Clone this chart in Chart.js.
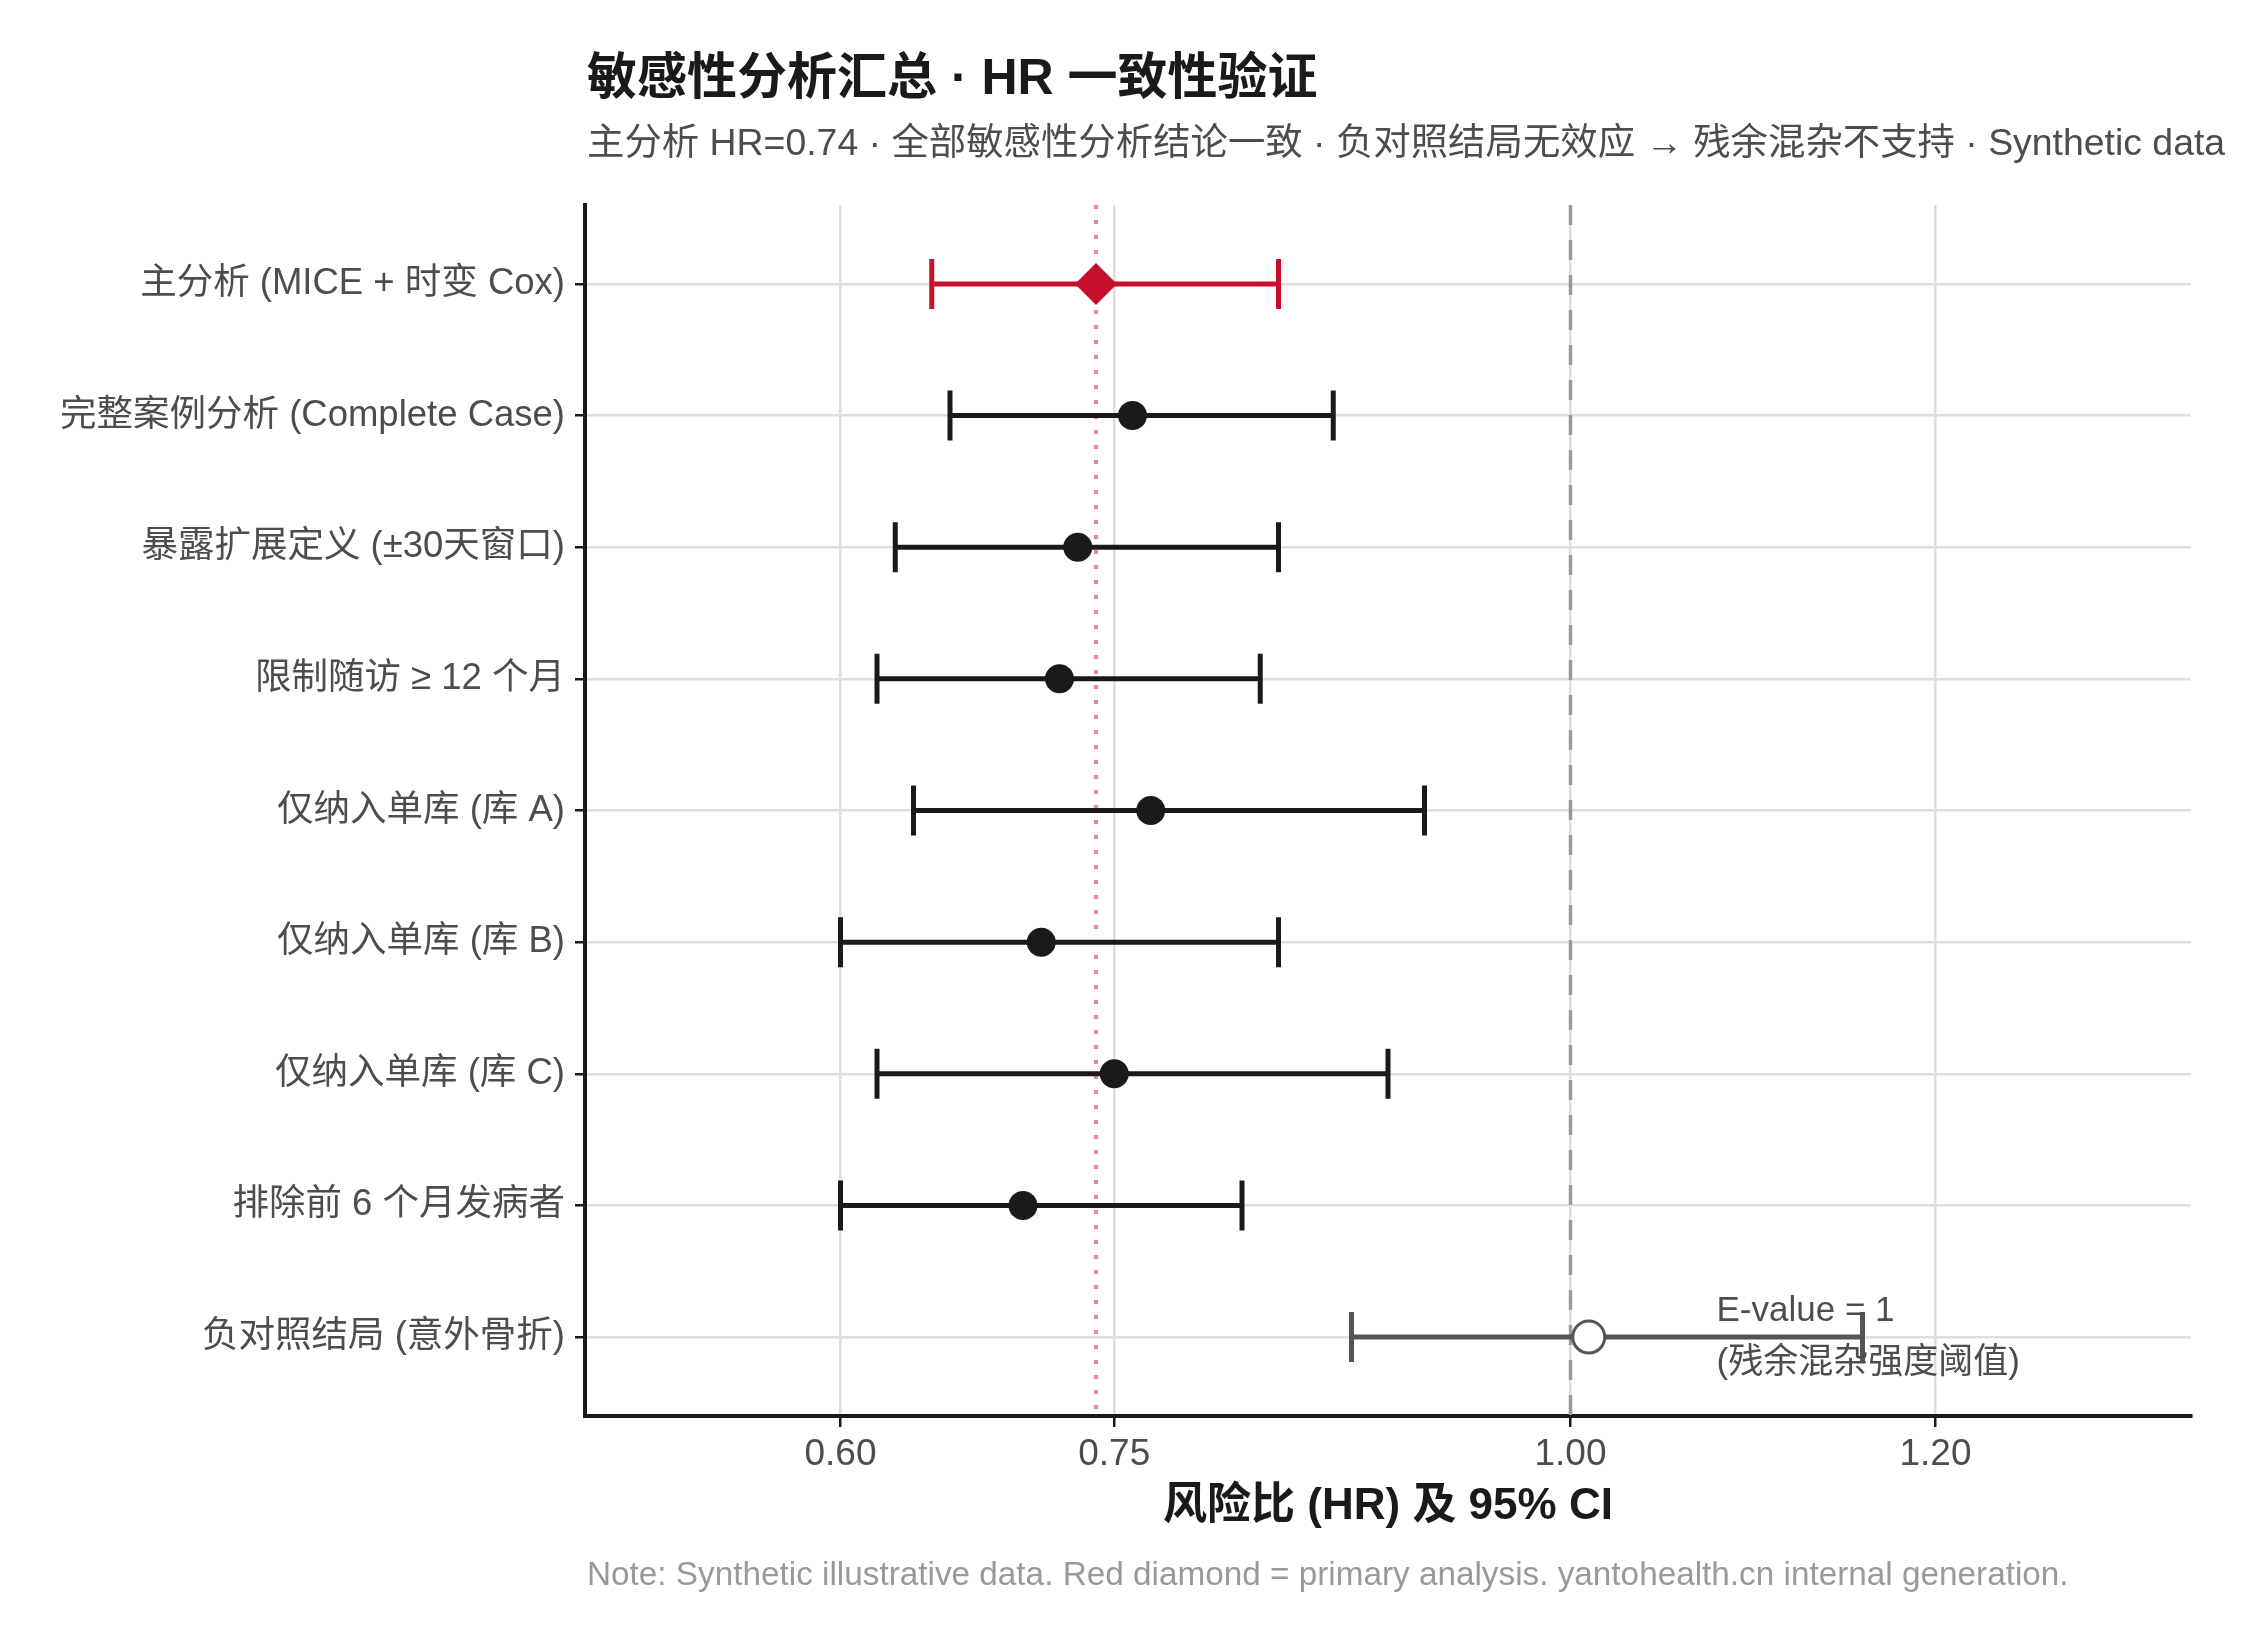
<!DOCTYPE html>
<html>
<head>
<meta charset="utf-8">
<script src="https://cdn.jsdelivr.net/npm/chart.js@4.4.1/dist/chart.umd.min.js"></script>
<style>
  html, body { margin: 0; padding: 0; background: #fff; }
  #wrap { width: 2250px; height: 1650px; }
</style>
</head>
<body>
<div id="wrap"><canvas id="grafico" width="2250" height="1650"></canvas></div>
<script>
// datos
const analyses = [
  '主分析 (MICE + 时变 Cox)',
  '完整案例分析 (Complete Case)',
  '暴露扩展定义 (±30天窗口)',
  '限制随访 ≥ 12 个月',
  '仅纳入单库 (库 A)',
  '仅纳入单库 (库 B)',
  '仅纳入单库 (库 C)',
  '排除前 6 个月发病者',
  '负对照结局 (意外骨折)'
];
const hr   = [0.74, 0.76, 0.73, 0.72, 0.77, 0.71, 0.75, 0.70, 1.01];
const ciLo = [0.65, 0.66, 0.63, 0.62, 0.64, 0.60, 0.62, 0.60, 0.88];
const ciHi = [0.84, 0.87, 0.84, 0.83, 0.92, 0.84, 0.90, 0.82, 1.16];
const xTicks = [0.60, 0.75, 1.00, 1.20];
const primaryHR = 0.74;
const nullHR = 1.00;
const evalueX = 1.08;

const FONT = '"Liberation Sans", "Noto Sans CJK SC", sans-serif';
const RED = '#C8102E';
const DARK = '#1a1a1a';
const GREY = '#555555';

const n = analyses.length;
const colorFor = i => i === 0 ? RED : (i === n - 1 ? GREY : DARK);

// lineas de referencia + barras de error
const forestPlugin = {
  id: 'forest',
  beforeDatasetsDraw(chart) {
    const { ctx, chartArea: a, scales: { x, y } } = chart;
    ctx.save();
    ctx.beginPath();
    ctx.rect(a.left, a.top, a.right - a.left, a.bottom - a.top);
    ctx.clip();
    // HR = 1 linea discontinua
    ctx.strokeStyle = '#9a9a9a';
    ctx.lineWidth = 3.5;
    ctx.setLineDash([20, 15]);
    ctx.beginPath();
    ctx.moveTo(x.getPixelForValue(nullHR), a.top);
    ctx.lineTo(x.getPixelForValue(nullHR), a.bottom);
    ctx.stroke();
    // HR principal linea punteada
    ctx.strokeStyle = 'rgba(200,16,46,0.5)';
    ctx.lineWidth = 4;
    ctx.setLineDash([4, 11]);
    ctx.beginPath();
    ctx.moveTo(x.getPixelForValue(primaryHR), a.top);
    ctx.lineTo(x.getPixelForValue(primaryHR), a.bottom);
    ctx.stroke();
    ctx.setLineDash([]);
    // barras de error
    ctx.lineWidth = 5;
    analyses.forEach((_, i) => {
      const yy = y.getPixelForValue(i);
      const x0 = x.getPixelForValue(ciLo[i]);
      const x1 = x.getPixelForValue(ciHi[i]);
      const h = 25;
      ctx.strokeStyle = colorFor(i);
      ctx.beginPath();
      ctx.moveTo(x0, yy); ctx.lineTo(x1, yy);
      ctx.moveTo(x0, yy - h); ctx.lineTo(x0, yy + h);
      ctx.moveTo(x1, yy - h); ctx.lineTo(x1, yy + h);
      ctx.stroke();
    });
    ctx.restore();
  },
  afterDraw(chart) {
    const { ctx, chartArea: a, scales: { x, y } } = chart;
    ctx.save();
    ctx.textBaseline = 'middle';
    ctx.textAlign = 'left';
    // anotacion E-value
    ctx.fillStyle = '#4d4d4d';
    ctx.font = '35px ' + FONT;
    const yy = y.getPixelForValue(n - 1);
    ctx.fillText('E-value = 1', x.getPixelForValue(evalueX), yy - 26);
    ctx.fillText('(残余混杂强度阈值)', x.getPixelForValue(evalueX), yy + 26);
    // titulo
    ctx.fillStyle = DARK;
    ctx.font = 'bold 50px ' + FONT;
    ctx.fillText('敏感性分析汇总 · HR 一致性验证', a.left + 2, 80);
    ctx.fillStyle = '#4d4d4d';
    ctx.font = '37.4px ' + FONT;
    ctx.fillText('主分析 HR=0.74 · 全部敏感性分析结论一致 · 负对照结局无效应 → 残余混杂不支持 · Synthetic data', a.left + 2, 145);
    // titulo eje x
    ctx.textAlign = 'center';
    ctx.fillStyle = DARK;
    ctx.font = 'bold 44px ' + FONT;
    ctx.fillText('风险比 (HR) 及 95% CI', (a.left + a.right) / 2, 1507);
    // nota
    ctx.textAlign = 'left';
    ctx.fillStyle = '#999999';
    ctx.font = '33.3px ' + FONT;
    ctx.fillText('Note: Synthetic illustrative data. Red diamond = primary analysis. yantohealth.cn internal generation.', a.left + 2, 1576);
    ctx.restore();
  }
};

const pts = idx => idx.map(i => ({ x: hr[i], y: i }));
const sensIdx = analyses.map((_, i) => i).filter(i => i > 0 && i < n - 1);

new Chart(document.getElementById('grafico').getContext('2d'), {
  type: 'scatter',
  data: {
    datasets: [
      {
        label: 'primary',
        data: pts([0]),
        pointStyle: 'rectRot',
        pointRadius: 21,
        backgroundColor: RED,
        borderColor: RED,
        borderWidth: 0
      },
      {
        label: 'sensitivity',
        data: pts(sensIdx),
        pointStyle: 'circle',
        pointRadius: 14.5,
        backgroundColor: DARK,
        borderColor: DARK,
        borderWidth: 0
      },
      {
        label: 'negative control',
        data: pts([n - 1]),
        pointStyle: 'circle',
        pointRadius: 16,
        backgroundColor: '#ffffff',
        borderColor: GREY,
        borderWidth: 3
      }
    ]
  },
  options: {
    responsive: false,
    animation: false,
    layout: { padding: { top: 205, right: 59, left: 0, bottom: 0 } },
    plugins: { legend: { display: false }, tooltip: { enabled: false } },
    scales: {
      x: {
        type: 'linear',
        min: 0.46,
        max: 1.34,
        afterBuildTicks: s => { s.ticks = xTicks.map(v => ({ value: v })); },
        afterFit: s => { s.height = 234; },
        grid: { color: '#dedede', lineWidth: 2.5, tickColor: DARK, tickLength: 11 },
        border: { color: DARK, width: 4 },
        ticks: {
          color: '#4d4d4d',
          font: { family: FONT, size: 37 },
          padding: 6,
          callback: v => Number(v).toFixed(2)
        }
      },
      y: {
        type: 'linear',
        reverse: true,
        min: -0.6,
        max: 8.6,
        afterBuildTicks: s => { s.ticks = analyses.map((_, i) => ({ value: i })); },
        afterFit: s => { s.width = 585; },
        grid: { color: '#dedede', lineWidth: 2.5, tickColor: DARK, tickLength: 10 },
        border: { color: DARK, width: 4 },
        ticks: {
          color: '#4d4d4d',
          font: { family: FONT, size: 36.5 },
          padding: 10,
          callback: v => analyses[v] ?? ''
        }
      }
    }
  },
  plugins: [forestPlugin]
});
</script>
</body>
</html>
